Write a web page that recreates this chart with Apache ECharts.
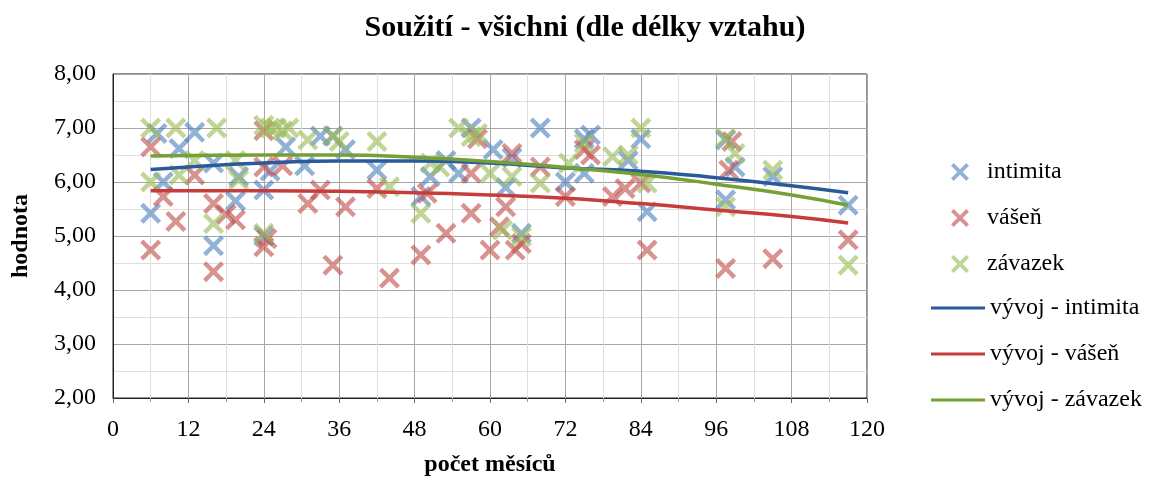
<!DOCTYPE html>
<html>
<head>
<meta charset="utf-8">
<script src="https://cdn.jsdelivr.net/npm/echarts@6/dist/echarts.min.js"></script>
<style>
    html, body { margin: 0; padding: 0; background: #fff; }
    #chart { width: 1170px; height: 482px; }
</style>
</head>
<body>
<div id="chart"></div>
<script>
// body data: scatter points (months, value)
let intimitaX = [6, 7, 8, 10.5, 13, 16, 16, 19.5, 20, 24, 24, 25, 27.5, 30.5, 33, 35, 37, 42, 49, 50.5, 53, 55, 57, 60.5, 62.5, 63.5, 65, 68, 72, 75, 76, 75, 82, 84, 85, 97.5, 97.5, 99, 105, 117];
let intimitaY = [5.42, 6.9, 6.0, 6.62, 6.92, 6.35, 4.82, 5.65, 6.1, 5.85, 5.0, 6.2, 6.65, 6.3, 6.85, 6.85, 6.6, 6.22, 5.73, 6.1, 6.4, 6.16, 7.0, 6.6, 5.9, 6.45, 5.05, 7.0, 6.0, 6.8, 6.87, 6.16, 6.4, 6.8, 5.45, 6.78, 5.67, 6.28, 6.1, 5.57];

let vasenX = [6, 6, 8, 10, 13, 16, 16, 18, 19.5, 24, 24.5, 24, 24, 27, 31, 33, 35, 37, 42, 44, 49, 50, 53, 57, 57, 58, 60, 61.5, 63.5, 62.5, 64, 65, 68, 72, 75, 76, 79.5, 81.5, 84, 85, 97.5, 98.5, 98, 105, 117];
let vasenY = [4.74, 6.65, 5.73, 5.27, 6.13, 5.6, 4.34, 5.4, 5.3, 4.8, 4.95, 6.28, 6.95, 6.3, 5.6, 5.85, 4.46, 5.54, 5.88, 4.22, 4.65, 5.79, 5.05, 6.16, 5.42, 6.8, 4.74, 5.17, 6.53, 5.54, 4.74, 4.86, 6.28, 5.73, 6.6, 6.5, 5.73, 5.88, 5.98, 4.74, 4.4, 6.75, 6.22, 4.58, 4.93];

let zavazekX = [6, 6, 10, 13, 16.5, 16, 10.5, 19.5, 20, 24, 25, 26, 27, 28, 24, 31, 35, 36, 42, 44, 49, 50.5, 52, 55, 57, 58, 60, 62, 63.5, 65, 68, 72.5, 75, 79.5, 82, 84, 85, 97.5, 97.5, 99, 105, 117];
let zavazekY = [7.0, 6.0, 7.0, 6.4, 7.0, 5.23, 6.13, 6.4, 6.04, 7.05, 7.0, 7.0, 6.95, 7.0, 5.05, 6.78, 6.85, 6.75, 6.75, 5.91, 5.42, 6.35, 6.28, 7.0, 6.84, 6.9, 6.16, 5.11, 6.1, 4.99, 5.98, 6.35, 6.72, 6.47, 6.5, 7.0, 5.98, 6.81, 5.54, 6.53, 6.22, 4.46];

// trendové křivky
let trendX = [6, 12, 24, 36, 48, 60, 72, 84, 96, 108, 117];
let trendIntimita = [6.23, 6.28, 6.35, 6.39, 6.39, 6.35, 6.26, 6.2, 6.08, 5.93, 5.8];
let trendVasen = [5.84, 5.84, 5.84, 5.83, 5.8, 5.76, 5.7, 5.6, 5.48, 5.36, 5.24];
let trendZavazek = [6.48, 6.49, 6.5, 6.5, 6.46, 6.38, 6.27, 6.14, 5.96, 5.76, 5.57];

let names = ['intimita', 'vášeň', 'závazek', 'vývoj - intimita', 'vývoj - vášeň', 'vývoj - závazek'];
let xTicks = [0, 12, 24, 36, 48, 60, 72, 84, 96, 108, 120];

let fontFamily = '"Liberation Serif", "Times New Roman", serif';
let crossIcon = 'path://M0,1.5L1.5,0L5,3.5L8.5,0L10,1.5L6.5,5L10,8.5L8.5,10L5,6.5L1.5,10L0,8.5L3.5,5Z';

function zip(xs, ys) {
    let out = [];
    for (let i = 0; i < xs.length; i++) {
        out.push([xs[i], ys[i]]);
    }
    return out;
}

function scatterSeries(name, xs, ys, color) {
    return {
        name: name,
        type: 'scatter',
        symbol: crossIcon,
        symbolSize: 21,
        itemStyle: {color: color, opacity: 0.62},
        data: zip(xs, ys),
        z: 2
    };
}

function trendSeries(name, ys, color) {
    return {
        name: name,
        type: 'line',
        smooth: true,
        showSymbol: false,
        symbol: 'none',
        lineStyle: {color: color, width: 3.5},
        itemStyle: {color: color},
        data: zip(trendX, ys),
        z: 3
    };
}

let chart = echarts.init(document.getElementById('chart'));

let option = {
    backgroundColor: '#fff',
    animation: false,
    title: {
        text: 'Soužití - všichni (dle délky vztahu)',
        left: 'center',
        top: 8,
        textStyle: {fontFamily: fontFamily, fontSize: 30, fontWeight: 'bold', color: '#000'}
    },
    legend: [
        {
            data: names.slice(0, 3),
            orient: 'vertical',
            left: 946,
            top: 155,
            itemWidth: 18,
            itemHeight: 18,
            itemGap: 22,
            textStyle: {fontFamily: fontFamily, fontSize: 24, color: '#000', padding: [0, 0, 0, 13]}
        },
        {
            data: names.slice(3),
            orient: 'vertical',
            left: 926,
            top: 291,
            icon: 'rect',
            itemWidth: 54,
            itemHeight: 3,
            itemGap: 22,
            textStyle: {fontFamily: fontFamily, fontSize: 24, color: '#000'}
        }
    ],
    grid: {
        left: 113,
        right: 303,
        top: 74,
        bottom: 84,
        show: true,
        borderColor: '#222',
        borderWidth: 1
    },
    xAxis: {
        type: 'value',
        min: 0,
        max: 120,
        interval: 12,
        name: 'počet měsíců',
        nameLocation: 'middle',
        nameGap: 55,
        nameTextStyle: {fontFamily: fontFamily, fontSize: 24, fontWeight: 'bold', color: '#000'},
        axisLine: {show: true, lineStyle: {color: '#222'}},
        axisTick: {show: true, length: 5, lineStyle: {color: '#666'}},
        minorTick: {show: true, splitNumber: 2, length: 4, lineStyle: {color: '#999'}},
        axisLabel: {
            margin: 20,
            fontFamily: fontFamily,
            fontSize: 24,
            color: '#000',
            formatter: function (v) {
                return xTicks.indexOf(v) >= 0 ? String(v) : '';
            }
        },
        splitLine: {show: true, lineStyle: {color: '#a6a6a6', width: 1}},
        minorSplitLine: {show: true, lineStyle: {color: '#dedede', width: 1}}
    },
    yAxis: {
        type: 'value',
        min: 2,
        max: 8,
        interval: 1,
        name: 'hodnota',
        nameLocation: 'middle',
        nameRotate: 90,
        nameGap: 80,
        nameTextStyle: {fontFamily: fontFamily, fontSize: 24, fontWeight: 'bold', color: '#000'},
        axisLine: {show: true, lineStyle: {color: '#222'}},
        axisTick: {show: false},
        minorTick: {show: false, splitNumber: 2},
        axisLabel: {
            margin: 17,
            fontFamily: fontFamily,
            fontSize: 24,
            color: '#000',
            formatter: function (v) {
                return v.toFixed(2).replace('.', ',');
            }
        },
        splitLine: {show: true, lineStyle: {color: '#a6a6a6', width: 1}},
        minorSplitLine: {show: true, lineStyle: {color: '#dedede', width: 1}}
    },
    series: [
        scatterSeries(names[0], intimitaX, intimitaY, '#4f81bd'),
        scatterSeries(names[1], vasenX, vasenY, '#c0504d'),
        scatterSeries(names[2], zavazekX, zavazekY, '#9bbb59'),
        trendSeries(names[3], trendIntimita, '#2a5a9a'),
        trendSeries(names[4], trendVasen, '#c63c3a'),
        trendSeries(names[5], trendZavazek, '#74a036')
    ]
};

chart.setOption(option);
</script>
</body>
</html>
